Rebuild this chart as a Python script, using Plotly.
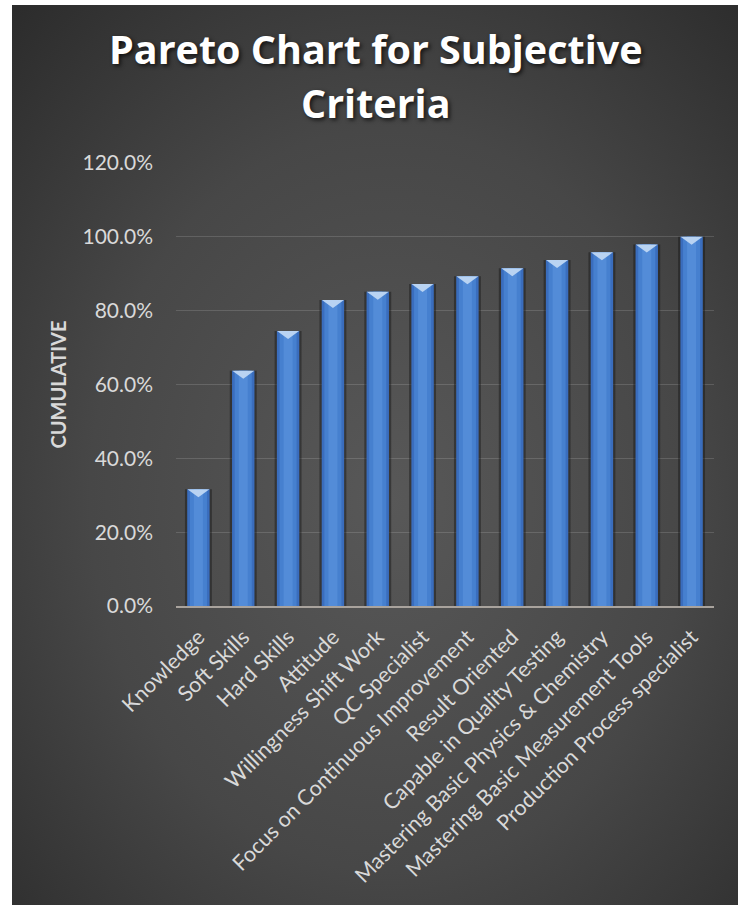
import base64
import plotly.graph_objects as go

categories = ["Knowledge", "Soft Skills", "Hard Skills", "Attitude", "Willingness Shift Work",
              "QC Specialist", "Focus on Continuous Improvement", "Result Oriented",
              "Capable in Quality Testing", "Mastering Basic Physics & Chemistry",
              "Mastering Basic Measurement Tools", "Production Process specialist"]
cumulative = [0.316, 0.637, 0.745, 0.829, 0.851, 0.872, 0.893, 0.915, 0.937, 0.958, 0.979, 1.000]
title_lines = ["Pareto Chart for Subjective", "Criteria"]
y_title = "CUMULATIVE"

W, H = 746, 912
L, R, T, B = 176, 32, 163, 306
pw, ph = W - L - R, H - T - B

svg = """<svg xmlns='http://www.w3.org/2000/svg' width='726' height='900' viewBox='0 0 726 900' preserveAspectRatio='none'>
<defs><radialGradient id='g' cx='0.52' cy='0.55' r='0.75' fx='0.52' fy='0.55'>
<stop offset='0' stop-color='#585858'/><stop offset='0.55' stop-color='#474747'/>
<stop offset='1' stop-color='#2c2c2c'/></radialGradient></defs>
<rect width='726' height='900' fill='url(#g)'/></svg>"""
src = "data:image/svg+xml;base64," + base64.b64encode(svg.encode()).decode()

fig = go.Figure()
fig.add_trace(go.Bar(x=categories, y=cumulative, width=0.6,
                     marker=dict(color="rgba(20,20,20,0.45)", line=dict(width=0)),
                     hoverinfo="skip", showlegend=False))
fig.add_trace(go.Bar(x=categories, y=cumulative, width=0.5,
                     marker=dict(color="#3a6dbd", line=dict(width=0)), showlegend=False))
fig.add_trace(go.Bar(x=categories, y=cumulative, width=0.38,
                     marker=dict(color="#4680cf", line=dict(width=0)),
                     hoverinfo="skip", showlegend=False))
fig.add_trace(go.Bar(x=categories, y=cumulative, width=0.2,
                     marker=dict(color="#538cd8", line=dict(width=0)),
                     hoverinfo="skip", showlegend=False))

shapes = []
for c, v in zip(categories, cumulative):
    shapes.append(dict(type="path", xref="x", yref="y", xsizemode="pixel", ysizemode="pixel",
                       xanchor=c, yanchor=v, path="M-11,0 L11,0 L0,-8 Z",
                       fillcolor="#b9d3f2", line=dict(width=0), layer="above"))

title_y_px = [49, 103]
annotations = []
for line, ypx in zip(title_lines, title_y_px):
    annotations.append(dict(text=line, xref="paper", yref="paper",
                            x=(376 - L) / pw, y=(H - B - ypx) / ph,
                            xanchor="center", yanchor="middle", showarrow=False,
                            font=dict(family="Open Sans", size=39.5, color="white", weight="bold",
                                      shadow="2px 2px 4px rgba(0,0,0,0.7)")))

fig.update_layout(
    width=W, height=H,
    margin=dict(l=L, r=R, t=T, b=B, pad=0),
    paper_bgcolor="white",
    plot_bgcolor="rgba(0,0,0,0.11)",
    barmode="overlay",
    bargap=0.5,
    shapes=shapes,
    images=[dict(source=src, xref="paper", yref="paper",
                 x=(12 - L) / pw, y=(H - B - 5) / ph, sizex=726 / pw, sizey=900 / ph,
                 xanchor="left", yanchor="top", sizing="stretch", layer="below")],
    annotations=annotations,
    xaxis=dict(type="category", tickangle=-45, showgrid=False, showline=True,
               linecolor="#a9a39d", linewidth=2, ticks="", ticklabelstandoff=8,
               tickfont=dict(family="Lato", size=21.5, color="#d9d9d9")),
    yaxis=dict(range=[0, 1.2], dtick=0.2, tickformat=".1%", showgrid=True,
               gridcolor="rgba(255,255,255,0.14)", gridwidth=1, zeroline=False,
               showline=False, ticks="", ticklabelstandoff=22,
               tickfont=dict(family="Lato", size=21, color="#d9d9d9"),
               title=dict(text=y_title, standoff=10,
                          font=dict(family="Lato", size=20, color="#d9d9d9", weight="bold"))),
)

fig.write_html("out.html")
